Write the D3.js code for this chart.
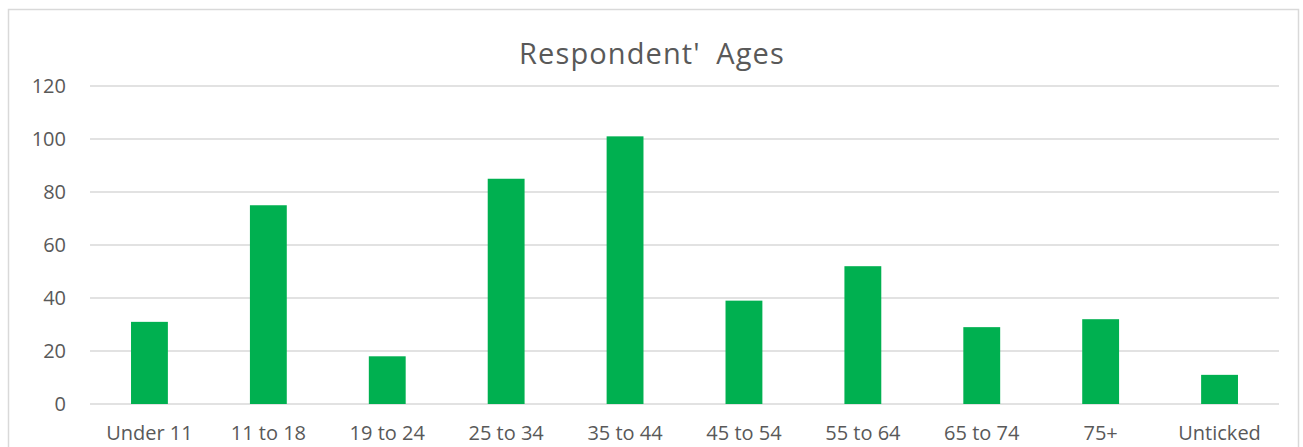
<!DOCTYPE html>
<html>
<head>
<meta charset="utf-8">
<script src="https://cdn.jsdelivr.net/npm/d3@7"></script>
<style>
  body { margin: 0; background: #fff; }
  text { font-family: "Open Sans", sans-serif; fill: #595959; }
</style>
</head>
<body>
<script>
// data
var categories = ["Under 11", "11 to 18", "19 to 24", "25 to 34", "35 to 44",
                  "45 to 54", "55 to 64", "65 to 74", "75+", "Unticked"];
var counts = [31, 75, 18, 85, 101, 39, 52, 29, 32, 11];
var yTicks = [0, 20, 40, 60, 80, 100, 120];
var title = "Respondent'\u2002Ages";

var W = 1303, H = 447;
var margin = {top: 86, right: 24, bottom: 43, left: 90};
var width = W - margin.left - margin.right,
    height = H - margin.top - margin.bottom;

var svg = d3.select("body").append("svg")
  .attr("width", W)
  .attr("height", H);

// chart border
svg.append("rect")
  .attr("x", 8.5).attr("y", 9.5)
  .attr("width", 1290).attr("height", 460)
  .attr("fill", "none")
  .attr("stroke", "#d9d9d9")
  .attr("stroke-width", 1.5);

svg.append("text")
  .attr("x", 652).attr("y", 64)
  .attr("text-anchor", "middle")
  .style("font-size", "29px")
  .style("letter-spacing", "1.1px")
  .text(title);

var g = svg.append("g")
  .attr("transform", "translate(" + margin.left + "," + margin.top + ")");

var x = d3.scaleBand().domain(categories).range([0, width]).paddingInner(0.69).paddingOuter(0.345);
var y = d3.scaleLinear().domain([0, 120]).range([height, 0]);

// gridlines
g.selectAll(".grid")
  .data(yTicks)
  .enter().append("line")
  .attr("x1", 0).attr("x2", width)
  .attr("y1", function(d) { return y(d); })
  .attr("y2", function(d) { return y(d); })
  .attr("stroke", "#d9d9d9")
  .attr("stroke-width", 1.3);

// bars
g.selectAll(".bar")
  .data(counts)
  .enter().append("rect")
  .attr("x", function(d, i) { return x(categories[i]); })
  .attr("width", x.bandwidth())
  .attr("y", function(d) { return y(d); })
  .attr("height", function(d) { return height - y(d); })
  .attr("fill", "#00b050");

// y axis labels
var yAxis = g.append("g").call(d3.axisLeft(y).tickValues(yTicks).tickSize(0).tickPadding(24));
yAxis.select(".domain").remove();
yAxis.selectAll("text").style("font-size", "20px").style("font-family", "Open Sans, sans-serif").attr("fill", "#595959");

// x axis labels
var xAxis = g.append("g")
  .attr("transform", "translate(0," + height + ")")
  .call(d3.axisBottom(x).tickSize(0).tickPadding(0));
xAxis.select(".domain").remove();
xAxis.selectAll("text").style("font-size", "20px").style("font-family", "Open Sans, sans-serif")
  .attr("fill", "#595959").attr("dy", null).attr("y", 36);
</script>
</body>
</html>
